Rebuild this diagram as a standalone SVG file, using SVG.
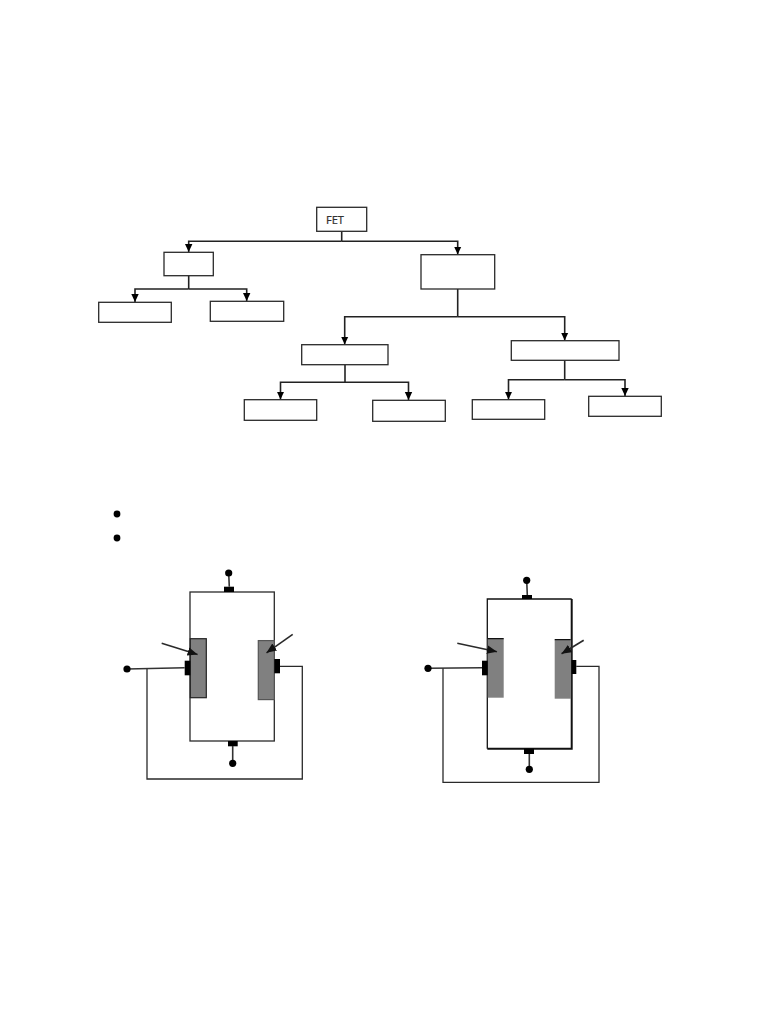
<svg xmlns="http://www.w3.org/2000/svg" width="768" height="1024" viewBox="0 0 768 1024">
<style>
.box{fill:#fff;stroke:#2a2a2a;stroke-width:1.3}
.c{fill:none;stroke:#222;stroke-width:1.6}
.a{fill:none;stroke:#222;stroke-width:1.6;marker-end:url(#ah)}
.w{fill:none;stroke:#2a2a2a;stroke-width:1.3}
.g{fill:#808080;stroke:#222;stroke-width:1.2}
.k{fill:#000}
.p{fill:none;stroke:#333;stroke-width:1.6}
.ga{fill:none;stroke:#2a2a2a;stroke-width:1.6;marker-end:url(#gh)}
</style>
<defs>
<marker id="ah" markerUnits="userSpaceOnUse" markerWidth="9" markerHeight="9" refX="8" refY="4.5" orient="auto"><path d="M0 0.8L8 4.5L0 8.2Z" fill="#000"/></marker>
<marker id="gh" markerUnits="userSpaceOnUse" markerWidth="11" markerHeight="10" refX="10" refY="5" orient="auto"><path d="M0 0.8L10 5L0 9.2Z" fill="#111"/></marker>
</defs>
<rect width="768" height="1024" fill="#fff"/>
<g id="connectors">
<path class="c" d="M341.7 231.3V241.3"/>
<path class="a" d="M341.7 241.3H188.7V252"/>
<path class="a" d="M341.7 241.3H457.7V254.5"/>
<path class="c" d="M188.7 275.7V289"/>
<path class="a" d="M188.7 289H135V302"/>
<path class="a" d="M188.7 289H246.7V301"/>
<path class="c" d="M457.7 289V316.7"/>
<path class="a" d="M457.7 316.7H344.7V344.5"/>
<path class="a" d="M457.7 316.7H564.7V340.5"/>
<path class="c" d="M345 364.7V382.3"/>
<path class="a" d="M345 382.3H280.5V399.5"/>
<path class="a" d="M345 382.3H408.5V400"/>
<path class="c" d="M564.7 360.3V379.7"/>
<path class="a" d="M564.7 379.7H508.5V399.5"/>
<path class="a" d="M564.7 379.7H625V396"/>
</g>
<g id="n-fet"><rect class="box" x="316.7" y="207.3" width="50" height="24"/><text x="326" y="224" font-family="'Noto Sans',sans-serif" font-size="11" fill="#333" stroke="#333" stroke-width="0.2">FET</text></g>
<g id="n-left"><rect class="box" x="164" y="252.3" width="49.3" height="23.4"/></g>
<g id="n-ll"><rect class="box" x="98.7" y="302.3" width="72.6" height="20"/></g>
<g id="n-lr"><rect class="box" x="210.3" y="301.3" width="73.4" height="20"/></g>
<g id="n-right"><rect class="box" x="421" y="254.7" width="73.7" height="34.3"/></g>
<g id="n-mid"><rect class="box" x="301.7" y="344.7" width="86.3" height="20"/></g>
<g id="n-rmid"><rect class="box" x="511.3" y="340.7" width="107.7" height="19.6"/></g>
<g id="n-a"><rect class="box" x="244.3" y="399.7" width="72.4" height="20.6"/></g>
<g id="n-b"><rect class="box" x="372.7" y="400.3" width="72.6" height="21"/></g>
<g id="n-c"><rect class="box" x="472.3" y="399.7" width="72.4" height="19.6"/></g>
<g id="n-d"><rect class="box" x="588.7" y="396.3" width="72.6" height="20"/></g>
<g id="bullets"><circle class="k" cx="117" cy="514" r="3.4"/><circle class="k" cx="117" cy="538" r="3.4"/></g>
<g id="fet1">
<path class="w" d="M147 668.3V779H302.3V666.3H280"/>
<rect class="w" x="190" y="592" width="84.3" height="149"/>
<rect class="g" x="190.3" y="638.7" width="16" height="59"/>
<rect class="g" x="258.3" y="640.6" width="16" height="59" style="stroke:#555"/>
<rect class="k" x="224" y="586.7" width="10" height="5.3"/>
<rect class="k" x="228" y="741" width="9.7" height="5.3"/>
<rect class="k" x="184.7" y="660.7" width="5.6" height="14.6"/>
<rect class="k" x="274.3" y="659" width="5.7" height="14.3"/>
<path class="p" d="M228.7 573L229.3 586.7M232.7 746V763.3M127 669L184.7 667.7"/>
<circle class="k" cx="228.7" cy="573" r="3.6"/><circle class="k" cx="232.7" cy="763.3" r="3.6"/><circle class="k" cx="127" cy="669" r="3.6"/>
<path class="ga" d="M161.7 643.3L197.6 654.4"/>
<path class="ga" d="M292.7 634.3L266.5 652.8"/>
</g>
<g id="fet2">
<path class="w" d="M443 668V782.3H599V666.3H576.3"/>
<path fill="none" stroke="#111" stroke-width="1.3" d="M487.3 748.7V599H571.7"/>
<path fill="none" stroke="#111" stroke-width="2" d="M571.7 599V748.7H487.3"/>
<rect class="g" x="487.7" y="638.7" width="16" height="59" style="stroke:none"/>
<rect class="g" x="554.7" y="639.7" width="16.4" height="59" style="stroke:none"/>
<path fill="none" stroke="#111" stroke-width="1.2" d="M487.7 638.7H503.7M554.7 639.7H570.7"/>
<rect class="k" x="522" y="595" width="10" height="4"/>
<rect class="k" x="524" y="748.7" width="10" height="5.3"/>
<rect class="k" x="482" y="660.7" width="5.7" height="14.6"/>
<rect class="k" x="571.7" y="660" width="4.6" height="14"/>
<path class="p" d="M526.7 580.3L527.3 595M529.3 754V769.3M428 668.3L482 667.7"/>
<circle class="k" cx="526.7" cy="580.3" r="3.6"/><circle class="k" cx="529.3" cy="769.3" r="3.6"/><circle class="k" cx="428" cy="668.3" r="3.6"/>
<path class="ga" d="M457.3 643.3L497 651.8"/>
<path class="ga" d="M583.7 640.3L561.5 653.8"/>
</g>
</svg>
